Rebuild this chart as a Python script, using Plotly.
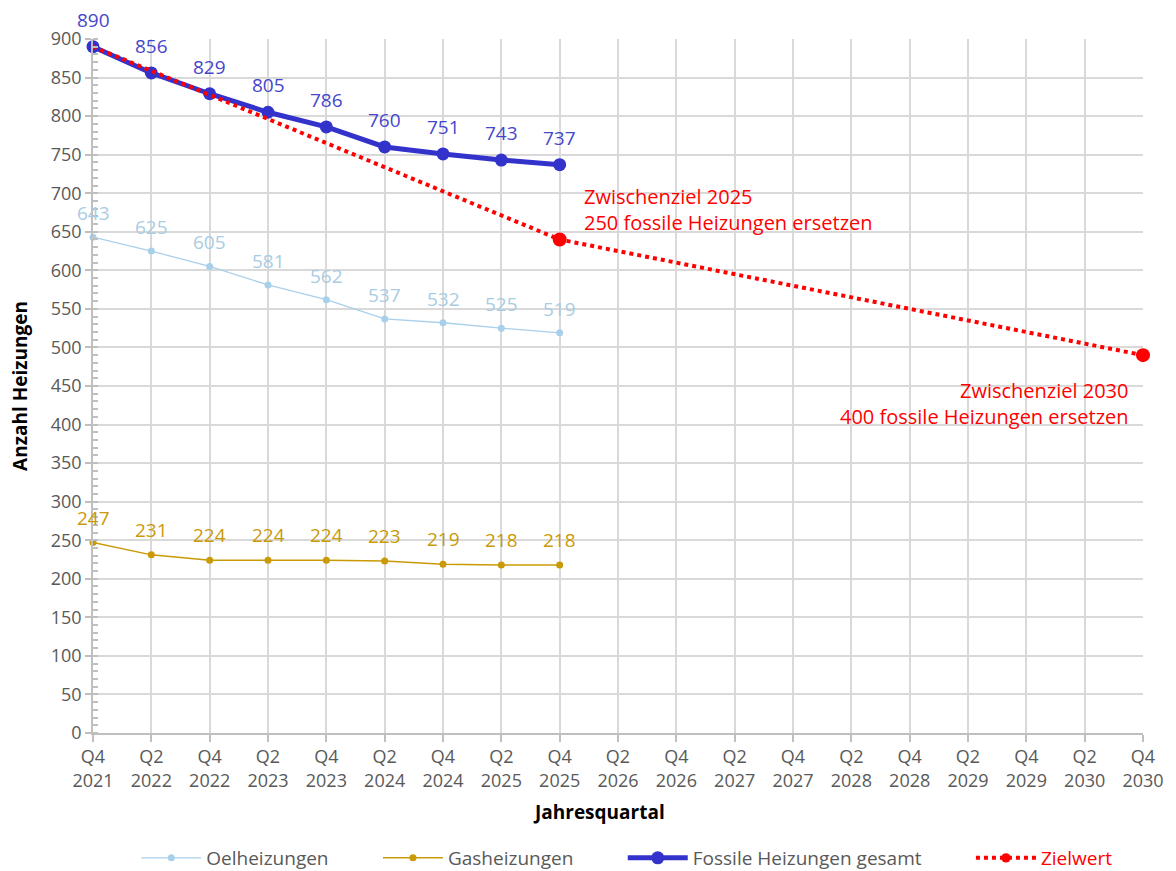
import plotly.graph_objects as go

quarters = ["Q4<br>2021", "Q2<br>2022", "Q4<br>2022", "Q2<br>2023", "Q4<br>2023",
            "Q2<br>2024", "Q4<br>2024", "Q2<br>2025", "Q4<br>2025", "Q2<br>2026",
            "Q4<br>2026", "Q2<br>2027", "Q4<br>2027", "Q2<br>2028", "Q4<br>2028",
            "Q2<br>2029", "Q4<br>2029", "Q2<br>2030", "Q4<br>2030"]
actual_q = quarters[:9]
oel = [643, 625, 605, 581, 562, 537, 532, 525, 519]
gas = [247, 231, 224, 224, 224, 223, 219, 218, 218]
fossil = [890, 856, 829, 805, 786, 760, 751, 743, 737]
ziel_q = ["Q4<br>2021", "Q4<br>2025", "Q4<br>2030"]
ziel = [890, 640, 490]
ziel_marker = [0, 14, 14]

FONT = "Open Sans"
C_OEL = "#a9d0ea"
C_OEL_T = "#a9cce3"
C_GAS = "#c99a06"
C_FOS = "#3333cc"
C_FOS_T = "#4646cc"
C_RED = "#ff0000"
GRID = "#d9d9d9"
TXT = "#595959"
GAP = "&nbsp;" * 9

fig = go.Figure()
fig.add_trace(go.Scatter(x=actual_q, y=oel, name="Oelheizungen" + GAP, mode="lines+markers",
                         line=dict(color=C_OEL, width=1.3), marker=dict(size=7, color=C_OEL),
                         cliponaxis=False))
fig.add_trace(go.Scatter(x=actual_q, y=gas, name="Gasheizungen" + GAP, mode="lines+markers",
                         line=dict(color=C_GAS, width=1.5), marker=dict(size=7, color=C_GAS),
                         cliponaxis=False))
fig.add_trace(go.Scatter(x=actual_q, y=fossil, name="Fossile Heizungen gesamt" + GAP,
                         mode="lines+markers",
                         line=dict(color=C_FOS, width=5), marker=dict(size=13, color=C_FOS),
                         cliponaxis=False))
fig.add_trace(go.Scatter(x=ziel_q, y=ziel, name='<span style="color:#ff0000">Zielwert</span>',
                         mode="lines+markers",
                         line=dict(color=C_RED, width=4, dash="dot"),
                         marker=dict(size=ziel_marker, color=C_RED, opacity=1,
                                     line=dict(width=0)),
                         opacity=1, cliponaxis=False))

ann = []
for q, v in zip(actual_q, fossil):
    ann.append(dict(x=q, y=v, text=str(v), showarrow=False, yshift=27,
                    font=dict(size=19, color=C_FOS_T, family=FONT)))
for q, v in zip(actual_q, oel):
    ann.append(dict(x=q, y=v, text=str(v), showarrow=False, yshift=24,
                    font=dict(size=19, color=C_OEL_T, family=FONT)))
for q, v in zip(actual_q, gas):
    ann.append(dict(x=q, y=v, text=str(v), showarrow=False, yshift=25,
                    font=dict(size=19, color=C_GAS, family=FONT)))

ann.append(dict(x=ziel_q[1], y=ziel[1], text="Zwischenziel 2025<br>250 fossile Heizungen ersetzen",
                showarrow=False, xanchor="left", yanchor="bottom", align="left",
                xshift=22, yshift=1, font=dict(size=20, color=C_RED, family=FONT)))
ann.append(dict(x=ziel_q[2], y=ziel[2], text="Zwischenziel 2030<br>400 fossile Heizungen ersetzen",
                showarrow=False, xanchor="right", yanchor="top", align="right",
                xshift=-12, yshift=-20, font=dict(size=20, color=C_RED, family=FONT)))
ann.append(dict(x=(600 - 93) / 1053, xref="paper", y=(733 - 812) / 694, yref="paper",
                xanchor="center", yanchor="middle", text="<b>Jahresquartal</b>",
                showarrow=False, font=dict(size=19, color="black", family=FONT)))

fig.update_layout(
    width=1176, height=871,
    margin=dict(l=93, r=30, t=39, b=138),
    plot_bgcolor="white", paper_bgcolor="white",
    font=dict(family=FONT, size=18, color=TXT),
    annotations=ann,
    showlegend=True,
    legend=dict(orientation="h", x=0.533, xanchor="center", xref="container",
                y=(871 - 858) / 871, yanchor="middle", yref="container",
                font=dict(size=19, color=TXT), itemwidth=60, tracegroupgap=0),
)
fig.update_xaxes(
    type="category", categoryorder="array", categoryarray=quarters,
    range=[0, 18], showgrid=True, gridcolor=GRID, gridwidth=1.5,
    showline=True, linecolor="#bfbfbf", linewidth=1.5,
    ticks="outside", ticklen=7, tickcolor="#bfbfbf", tickwidth=1.5,
    tickfont=dict(size=18, color=TXT),
)
fig.update_yaxes(
    range=[0, 900], dtick=50, showgrid=True, gridcolor=GRID, gridwidth=1.5,
    showline=True, linecolor="#bfbfbf", linewidth=1.5,
    ticks="outside", ticklen=6, tickcolor="#bfbfbf", tickwidth=1.5,
    minor=dict(dtick=10, ticks="inside", ticklen=5, tickcolor="#bfbfbf", tickwidth=1.5, showgrid=False),
    tickfont=dict(size=18, color=TXT),
    title=dict(text="<b>Anzahl Heizungen</b>", font=dict(size=19, color="black"), standoff=18),
    zeroline=False,
)

fig.write_html("out.html", post_script="document.body.style.margin='0';",
               config={"displayModeBar": False})
